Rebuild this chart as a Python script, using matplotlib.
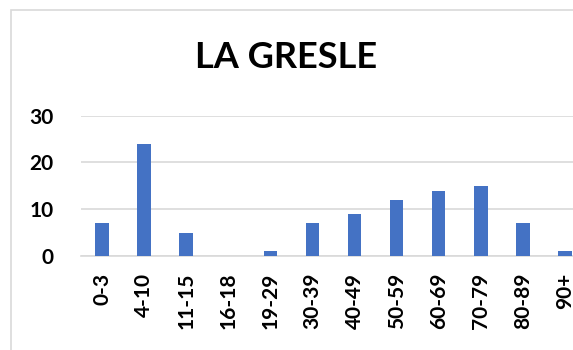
import matplotlib
matplotlib.use('Agg')
import matplotlib.pyplot as plt
from matplotlib.patches import Rectangle

# Age groups and head counts
age_groups = ['0-3', '4-10', '11-15', '16-18', '19-29', '30-39',
              '40-49', '50-59', '60-69', '70-79', '80-89', '90+']
counts = [7, 24, 5, 0, 1, 7, 9, 12, 14, 15, 7, 1]
y_ticks = [0, 10, 20, 30]

plt.rcParams['font.family'] = ['Lato', 'DejaVu Sans']

fig = plt.figure(figsize=(5.73, 3.5), dpi=100)

# Chart-area frame, partly running off the canvas
fig.patches.append(Rectangle((11 / 573, -0.1), 1.2, (350 - 10) / 350 + 0.1,
                             transform=fig.transFigure, fill=False,
                             edgecolor='#d9d9d9', linewidth=1.2))

ax = fig.add_axes([81 / 573, (350 - 256) / 350, 505 / 573, 140.3 / 350])
x = list(range(len(age_groups)))
ax.bar(x, counts, width=0.32, color='#4472C4', zorder=3)

ax.set_xlim(-0.5, len(age_groups) - 0.5)
ax.set_ylim(0, 30)
ax.set_yticks(y_ticks)
ax.yaxis.grid(True, color='#d9d9d9', linewidth=1.2, zorder=0)
for side in ['top', 'right', 'left']:
    ax.spines[side].set_visible(False)
ax.spines['bottom'].set_color('#d9d9d9')
ax.spines['bottom'].set_linewidth(1.2)

ax.set_xticks(x)
ax.set_xticklabels(age_groups, rotation=90, fontsize=15, fontweight='bold')
ax.tick_params(axis='x', length=0, pad=12)
ax.tick_params(axis='y', length=0, pad=20, labelsize=15)
for lbl in ax.get_yticklabels():
    lbl.set_fontweight('bold')

fig.text(0.5, (350 - 57) / 350, 'LA GRESLE', ha='center', va='center',
         fontsize=26, fontweight='bold')

fig.savefig('out.png', dpi=100)
